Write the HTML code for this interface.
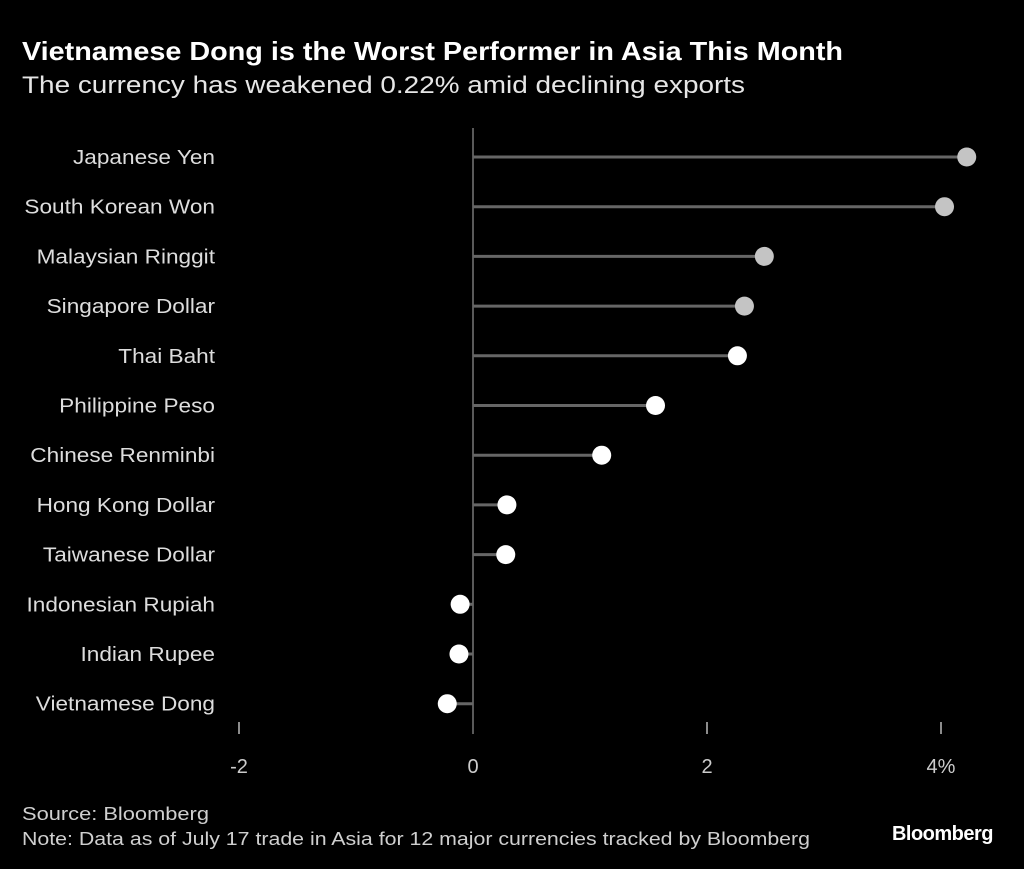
<!DOCTYPE html>
<html><head><meta charset="utf-8"><style>
body{margin:0;background:#000;width:1024px;height:869px;overflow:hidden;font-family:"Liberation Sans",sans-serif;color:#fff}
svg{position:absolute;left:0;top:0}
</style></head><body>
<svg width="1024" height="869">
<text x="22" y="60" font-size="26" font-weight="bold" fill="#fff" textLength="821" lengthAdjust="spacingAndGlyphs">Vietnamese Dong is the Worst Performer in Asia This Month</text>
<text x="22" y="93" font-size="24" fill="#e6e6e6" textLength="723" lengthAdjust="spacingAndGlyphs">The currency has weakened 0.22% amid declining exports</text>
<g id="plot"></g>
<text x="22" y="820" font-size="18" fill="#cfcfcf" textLength="187" lengthAdjust="spacingAndGlyphs">Source: Bloomberg</text>
<text x="22" y="845" font-size="18" fill="#cfcfcf" textLength="788" lengthAdjust="spacingAndGlyphs">Note: Data as of July 17 trade in Asia for 12 major currencies tracked by Bloomberg</text>
<text x="993" y="840" font-size="20" font-weight="bold" fill="#fff" text-anchor="end" letter-spacing="-0.5">Bloomberg</text>
</svg>
<script>
const categories=["Japanese Yen","South Korean Won","Malaysian Ringgit","Singapore Dollar","Thai Baht","Philippine Peso","Chinese Renminbi","Hong Kong Dollar","Taiwanese Dollar","Indonesian Rupiah","Indian Rupee","Vietnamese Dong"];
const values=[4.22,4.03,2.49,2.32,2.26,1.56,1.10,0.29,0.28,-0.11,-0.12,-0.22];
const grayFlags=[1,1,1,1,0,0,0,0,0,0,0,0];
const ticks=[-2,0,2,4];
const tickLabels=["-2","0","2","4%"];
const NS="http://www.w3.org/2000/svg";
const g=document.getElementById('plot');
const x=v=>473+v*117;
const y=i=>157+i*49.7;
function mk(t,a){const e=document.createElementNS(NS,t);for(const k in a)e.setAttribute(k,a[k]);g.appendChild(e);return e;}
let zl=mk('line',{x1:x(0),x2:x(0),y1:128,y2:734,stroke:'#777','stroke-width':1.5});


ticks.forEach((t,i)=>{
 if(t!==0){const tk=mk('line',{x1:x(t),x2:x(t),y1:722,y2:734,stroke:'#bbb','stroke-width':1.5});
 
 }
 const tl=mk('text',{x:x(t),y:773,'font-size':20,fill:'#ccc','text-anchor':'middle'});tl.textContent=tickLabels[i];
 
 
});
categories.forEach((c,i)=>{
 const lb=mk('text',{x:215,y:y(i)+7,'font-size':20,fill:'#ddd','text-anchor':'end'});lb.textContent=c;
 
 
 const L=lb.getComputedTextLength();
 lb.setAttribute('textLength',(L*1.13).toFixed(1));
 lb.setAttribute('lengthAdjust','spacingAndGlyphs');
 const st=mk('line',{x1:x(0),x2:x(values[i]),y1:y(i),y2:y(i),stroke:'#666','stroke-width':3});
 
 
 const d=mk('circle',{cx:x(values[i]),cy:y(i),r:9.5,fill:grayFlags[i]?'#c4c4c4':'#fff'});
 
 
});
</script>
</body></html>
